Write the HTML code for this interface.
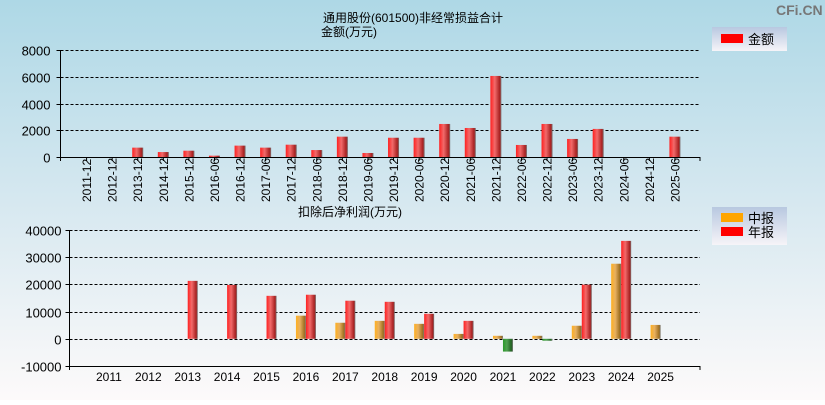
<!DOCTYPE html>
<html><head><meta charset="utf-8"><style>
html,body{margin:0;padding:0;}
body{width:825px;height:400px;overflow:hidden;font-family:"Liberation Sans","Noto Sans CJK SC",sans-serif;}
svg text{font-family:"Liberation Sans","Noto Sans CJK SC",sans-serif;}
</style></head><body>
<svg id="c" width="825" height="400" viewBox="0 0 825 400" xmlns="http://www.w3.org/2000/svg">
<defs>
<linearGradient id="bg" x1="0" y1="0" x2="0" y2="1">
<stop offset="0" stop-color="#aed8e6"/><stop offset="0.5" stop-color="#d6e8f0"/><stop offset="1" stop-color="#fdfafa"/>
</linearGradient>
<linearGradient id="gr" x1="0" y1="0" x2="1" y2="0">
<stop offset="0" stop-color="#ff2020"/><stop offset="0.4" stop-color="#f26a6a"/><stop offset="0.85" stop-color="#a82020"/><stop offset="1" stop-color="#777"/>
</linearGradient>
<linearGradient id="go" x1="0" y1="0" x2="1" y2="0">
<stop offset="0" stop-color="#ffb020"/><stop offset="0.4" stop-color="#e8b060"/><stop offset="0.85" stop-color="#a07020"/><stop offset="1" stop-color="#777"/>
</linearGradient>
<linearGradient id="gg" x1="0" y1="0" x2="1" y2="0">
<stop offset="0" stop-color="#2a9a2a"/><stop offset="0.4" stop-color="#50a050"/><stop offset="0.85" stop-color="#206020"/><stop offset="1" stop-color="#777"/>
</linearGradient>
<linearGradient id="lg" x1="0" y1="0" x2="0" y2="1">
<stop offset="0" stop-color="#b8c8e0"/><stop offset="1" stop-color="#f6f4f8"/>
</linearGradient>
</defs>
<rect x="0" y="0" width="825" height="400" fill="url(#bg)"/>
<text x="776" y="15" font-size="14" font-weight="bold" fill="#777">CFi.CN</text>
<text x="323" y="22" font-size="12" fill="#000">通用股份(601500)非经常损益合计</text>
<text x="321" y="36" font-size="12" fill="#000">金额(万元)</text>
<text x="298" y="216" font-size="12" fill="#000">扣除后净利润(万元)</text>
<g>
<rect x="712" y="27" width="75" height="24" fill="url(#lg)"/>
<rect x="721" y="34" width="22" height="9" fill="#ff0000"/>
<text x="748" y="44" font-size="13" fill="#000">金额</text>
</g>
<g>
<rect x="712" y="207" width="75" height="38" fill="url(#lg)"/>
<rect x="721" y="213" width="22" height="9" fill="#ffa500"/>
<text x="748" y="223" font-size="13" fill="#000">中报</text>
<rect x="721" y="227" width="22" height="9" fill="#ff0000"/>
<text x="748" y="237" font-size="13" fill="#000">年报</text>
</g>
<g id="top"></g>
<g id="bot"></g>
</svg>
<script>
const topCats=["2011-12","2012-12","2013-12","2014-12","2015-12","2016-06","2016-12","2017-06","2017-12","2018-06","2018-12","2019-06","2019-12","2020-06","2020-12","2021-06","2021-12","2022-06","2022-12","2023-06","2023-12","2024-06","2024-12","2025-06"];
const topVals=[0,0,700,370,470,100,850,700,920,520,1520,300,1440,1440,2470,2170,6060,900,2470,1350,2100,0,0,1520];
const topTicks=[0,2000,4000,6000,8000];
const botYears=["2011","2012","2013","2014","2015","2016","2017","2018","2019","2020","2021","2022","2023","2024","2025"];
const botMid=[null,null,null,null,null,8500,5900,6600,5500,1800,1100,1100,4800,27600,5100];
const botAnnual=[null,null,21300,19800,15800,16200,14000,13600,9200,6600,-4700,-700,19900,36000,null];
const botTicks=[-10000,0,10000,20000,30000,40000];
const NS="http://www.w3.org/2000/svg";
function mk(p,t,a,txt){const e=document.createElementNS(NS,t);for(const k in a)e.setAttribute(k,a[k]);if(txt!=null)e.textContent=txt;p.appendChild(e);return e;}
// top chart
const T=document.getElementById('top');
const tx0=60.5,tx1=700,ty0=157,ty1=50,tmin=0,tmax=8000;
const tslot=(tx1-tx0)/25;
function txc(i){return tx0+(i+1)*tslot;}
function tyv(v){return ty0-(v-tmin)/(tmax-tmin)*(ty0-ty1);}
topTicks.forEach(v=>{const y=Math.round(tyv(v))+0.5;
 if(v>0){const g=mk(T,'line',{x1:tx0,x2:tx1,y1:y,y2:y,stroke:'#000','stroke-dasharray':'3,2','stroke-width':1});
 
 }
 mk(T,'line',{x1:tx0-4,x2:tx0,y1:y,y2:y,stroke:'#000'});
 const t=mk(T,'text',{x:tx0-10,y:y+5,'text-anchor':'end','font-size':13,fill:'#000'},v);
 
 
});
topCats.forEach((c,i)=>{const x=txc(i);
 const v=topVals[i];
 if(v>0){const r=mk(T,'rect',{x:x-5,y:tyv(v),width:11,height:ty0-tyv(v),fill:'url(#gr)'});
 
 }
 mk(T,'line',{x1:x+0.5,x2:x+0.5,y1:ty0,y2:ty0+4,stroke:'#000'});
 const t=mk(T,'text',{x:0,y:0,'font-size':12,fill:'#000',transform:`translate(${x+5},202) rotate(-90)`},c);
 
 
});
mk(T,'line',{x1:tx0,x2:tx0,y1:ty1,y2:ty0+4,stroke:'#000'});
mk(T,'line',{x1:tx0,x2:tx1,y1:ty0+0.5,y2:ty0+0.5,stroke:'#000'});
mk(T,'line',{x1:tx1,x2:tx1,y1:ty0,y2:ty0+4,stroke:'#000'});
// bottom chart
const B=document.getElementById('bot');
const bx0=69.5,bx1=700,byT=230,byB=366,bmin=-10000,bmax=40000;
const bslot=(bx1-bx0)/16;
function bxc(i){return bx0+(i+1)*bslot;}
function byv(v){return byB-(v-bmin)/(bmax-bmin)*(byB-byT);}
botTicks.forEach(v=>{const y=Math.round(byv(v))+0.5;
 if(v>bmin){const g=mk(B,'line',{x1:bx0,x2:bx1,y1:y,y2:y,stroke:'#000','stroke-dasharray':'3,2'});
 
 }
 mk(B,'line',{x1:bx0-4,x2:bx0,y1:y,y2:y,stroke:'#000'});
 const t=mk(B,'text',{x:bx0-8,y:y+5,'text-anchor':'end','font-size':13,fill:'#000'},v);
 
 
});
function bar(x,v,fill,name){const y0=byv(0),y=byv(v);
 const r=mk(B,'rect',{x:x,y:Math.min(y,y0),width:10,height:Math.max(1,Math.abs(y0-y)),fill:fill});
 
 }
botYears.forEach((yr,i)=>{const x=bxc(i);
 if(botMid[i]!=null)bar(x-10,botMid[i],botMid[i]<0?'url(#gg)':'url(#go)','bar-mid-'+yr);
 if(botAnnual[i]!=null)bar(x,botAnnual[i],botAnnual[i]<0?'url(#gg)':'url(#gr)','bar-annual-'+yr);
 const t=mk(B,'text',{x:x,y:381,'text-anchor':'middle','font-size':12,fill:'#000'},yr);
 
 
});
mk(B,'line',{x1:bx0,x2:bx0,y1:byT,y2:byB+4,stroke:'#000'});
mk(B,'line',{x1:bx0,x2:bx1,y1:byB+0.5,y2:byB+0.5,stroke:'#000'});
mk(B,'line',{x1:bx1,x2:bx1,y1:byB,y2:byB+4,stroke:'#000'});
</script>
</body></html>
